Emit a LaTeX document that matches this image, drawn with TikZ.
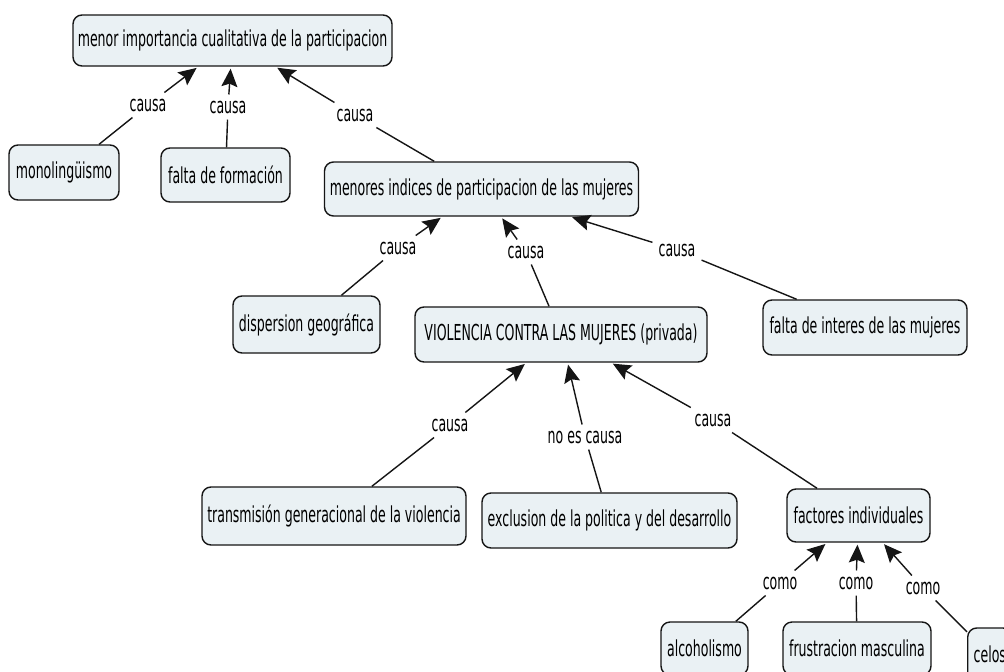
\documentclass[tikz,border=0pt]{standalone}
\usepackage{fontspec}
\setmainfont[FakeStretch=0.57]{DejaVu Sans}
\usetikzlibrary{arrows.meta}
\definecolor{cfill}{HTML}{EAF1F4}
\definecolor{cline}{HTML}{151515}
\begin{document}
\begin{tikzpicture}[x=1pt,y=-1pt,
  font=\fontsize{22}{24}\selectfont,
  concept/.style={draw=cline, fill=cfill, rounded corners=9pt, line width=1.4pt, inner sep=0pt, text=black},
  lbl/.style={inner sep=6pt, text=black},
  ln/.style={draw=cline, line width=1.4pt},
  arr/.style={draw=cline, line width=1.4pt, -{Stealth[length=18pt,width=16pt,inset=3pt]}, shorten >=2pt}]
\useasboundingbox (0,0) rectangle (1004,672);
\clip (0,0) rectangle (1004,672);
\fill[white] (0,0) rectangle (1004,672);
% concepts
\node[concept, minimum width=319pt, minimum height=51pt] (top) at (232.5,40.5) {menor importancia cualitativa de la participacion};
\node[concept, minimum width=110pt, minimum height=55pt] (mono) at (64,172.5) {monolingüismo};
\node[concept, minimum width=129pt, minimum height=54pt] (form) at (225.5,175) {falta de formación};
\node[concept, minimum width=314pt, minimum height=54pt] (men) at (481.5,189) {menores indices de participacion de las mujeres};
\node[concept, minimum width=147pt, minimum height=57pt] (disp) at (306.5,324.5) {dispersion geográfica};
\node[concept, minimum width=292pt, minimum height=55pt] (viol) at (561,334.5) {VIOLENCIA CONTRA LAS MUJERES (privada)};
\node[concept, minimum width=204pt, minimum height=55pt] (int) at (865,327.5) {falta de interes de las mujeres};
\node[concept, minimum width=264pt, minimum height=58pt] (trans) at (334,516) {transmisión generacional de la violencia};
\node[concept, minimum width=255pt, minimum height=55pt] (excl) at (609.5,520.5) {exclusion de la politica y del desarrollo};
\node[concept, minimum width=143pt, minimum height=53pt] (fact) at (858.5,515.5) {factores individuales};
\node[concept, minimum width=87pt, minimum height=53pt] (alc) at (704.5,648.5) {alcoholismo};
\node[concept, minimum width=148pt, minimum height=53pt] (frus) at (857,648.5) {frustracion masculina};
\node[concept, minimum height=53pt, inner xsep=6pt, anchor=west] (cel) at (967,654.5) {celos\hspace{20pt}};
% linking phrases
\node[lbl] (l1) at (148,105) {causa};
\node[lbl] (l2) at (228,107) {causa};
\node[lbl] (l3) at (355,115) {causa};
\node[lbl] (l4) at (398,248) {causa};
\node[lbl] (l5) at (526,252) {causa};
\node[lbl] (l6) at (677,250) {causa};
\node[lbl] (l7) at (450,425) {causa};
\node[lbl] (l8) at (585,437) {no es causa};
\node[lbl] (l9) at (713,420) {causa};
\node[lbl] (l10) at (780,583) {como};
\node[lbl] (l11) at (856,583) {como};
\node[lbl] (l12) at (923,588) {como};
% connectors
\draw[ln] (mono) -- (l1); \draw[arr] (l1) -- (top);
\draw[ln] (form) -- (l2); \draw[arr] (l2) -- (top);
\draw[ln] (men) -- (l3); \draw[arr] (l3) -- (top);
\draw[ln] (disp) -- (l4); \draw[arr] (l4) -- (men);
\draw[ln] (viol) -- (l5); \draw[arr] (l5) -- (men);
\draw[ln] (int) -- (l6); \draw[arr] (l6) -- (men);
\draw[ln] (trans) -- (l7); \draw[arr] (l7) -- (viol);
\draw[ln] (excl) -- (l8); \draw[arr] (l8) -- (viol);
\draw[ln] (fact) -- (l9); \draw[arr] (l9) -- (viol);
\draw[ln] (alc) -- (l10); \draw[arr] (l10) -- (fact);
\draw[ln] (frus) -- (l11); \draw[arr] (l11) -- (fact);
\draw[ln] (cel) -- (l12); \draw[arr] (l12) -- (fact);
\end{tikzpicture}
\end{document}
